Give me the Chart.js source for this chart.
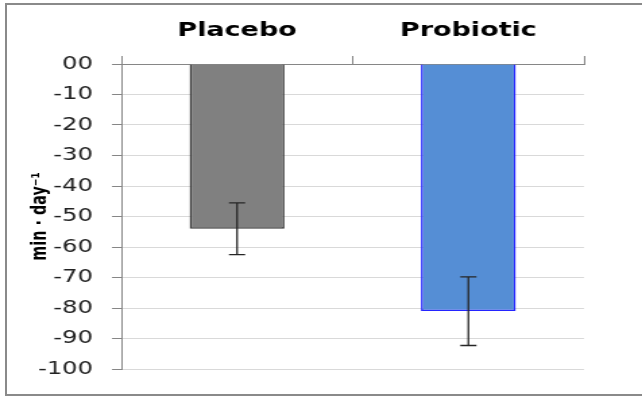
<!DOCTYPE html>
<html>
<head>
<meta charset="utf-8">
<script src="https://cdn.jsdelivr.net/npm/chart.js@4"></script>
<style>
  body { margin: 0; background: #fff; }
  #frame { position: absolute; left: 5px; top: 3px; width: 660px; height: 393px; border: 2px solid #8a8a8a; box-sizing: border-box; }
  /* the original picture is stretched sideways, so draw narrow and widen it */
  #wrap { position: absolute; left: 0; top: 0; width: 476px; height: 397px; transform: scaleX(1.34874); transform-origin: 0 0; }
</style>
</head>
<body>
<div id="frame"></div>
<div id="wrap"><canvas id="chart"></canvas></div>
<script>
var categories = ['Placebo', 'Probiotic'];
var means = [-54, -81];
var errHigh = [-45.5, -69.8];
var errLow = [-62.5, -92.3];
var yMin = -100, yMax = 0, yStep = 10;

// error bars drawn with the y scale
var errorBars = {
  id: 'errorBars',
  afterDatasetsDraw: function(chart) {
    var ctx = chart.ctx;
    var y = chart.scales.y;
    chart.getDatasetMeta(0).data.forEach(function(bar, i) {
      var top = y.getPixelForValue(errHigh[i]);
      var bot = y.getPixelForValue(errLow[i]);
      ctx.save();
      ctx.strokeStyle = '#262626';
      ctx.lineWidth = 1.3;
      ctx.beginPath();
      ctx.moveTo(bar.x, top); ctx.lineTo(bar.x, bot);
      ctx.moveTo(bar.x - 6, top); ctx.lineTo(bar.x + 6, top);
      ctx.moveTo(bar.x - 6, bot); ctx.lineTo(bar.x + 6, bot);
      ctx.stroke();
      ctx.restore();
    });
  }
};

Chart.defaults.font.family = 'DejaVu Sans';

var ctx = document.getElementById('chart').getContext('2d');
var chart = new Chart(ctx, {
  type: 'bar',
  data: {
    labels: categories,
    datasets: [{
      data: means,
      backgroundColor: ['#808080', '#558ed5'],
      borderColor: ['#3a3a3a', '#2424ff'],
      borderWidth: 1.5,
      barPercentage: 0.41,
      categoryPercentage: 1
    }]
  },
  options: {
    responsive: true,
    maintainAspectRatio: false,
    animation: false,
    layout: { padding: { left: 14, top: 0, right: 43, bottom: 28 } },
    plugins: { legend: { display: false }, tooltip: { enabled: false } },
    scales: {
      x: {
        position: 'top',
        afterFit: function(scale) { scale.height = 64; },
        ticks: { font: { size: 20, weight: 'bold' }, color: '#000', padding: 13.5 },
        grid: { drawOnChartArea: false, tickLength: 8, color: '#868686' },
        border: { color: '#868686', width: 1 }
      },
      y: {
        min: yMin,
        max: yMax,
        afterFit: function(scale) { scale.width = 76; },
        ticks: {
          stepSize: yStep,
          font: { size: 18 },
          color: '#222',
          padding: 14,
          callback: function(v) { return v === 0 ? '00' : v; }
        },
        grid: { color: '#d9d9d9', tickColor: '#868686', tickLength: 7 },
        border: { color: '#868686', width: 1 },
        title: {
          display: true,
          text: 'min · day⁻¹',
          font: { family: '"Liberation Sans Narrow", "DejaVu Sans Condensed", "Liberation Sans"', size: 16, weight: 'bold' },
          color: '#000',
          padding: { top: 6, bottom: 0 }
        }
      }
    }
  },
  plugins: [errorBars]
});
</script>
</body>
</html>
